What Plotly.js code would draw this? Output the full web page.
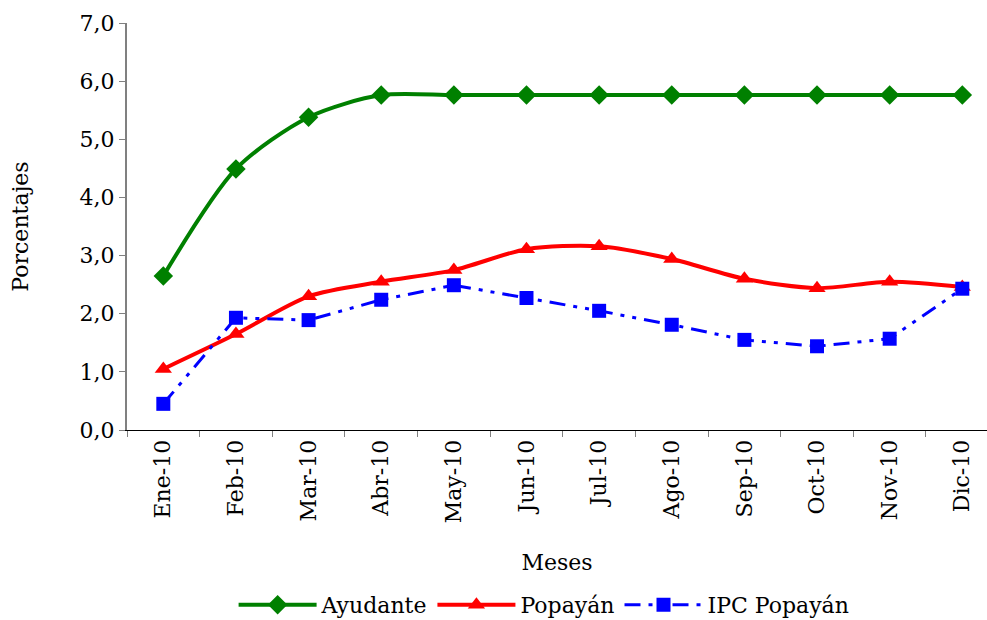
<!DOCTYPE html>
<html><head><meta charset="utf-8">
<script src="https://cdn.plot.ly/plotly-3.0.1.min.js"></script>
<style>body{margin:0;background:#fff}#chart{width:987px;height:620px}</style>
</head><body><div id="chart"></div>
<script>
const meses = ["Ene-10","Feb-10","Mar-10","Abr-10","May-10","Jun-10","Jul-10","Ago-10","Sep-10","Oct-10","Nov-10","Dic-10"];
const ayudante = [2.65,4.49,5.38,5.76,5.76,5.76,5.76,5.76,5.76,5.76,5.76,5.76];
const popayan = [1.05,1.65,2.30,2.55,2.75,3.11,3.16,2.94,2.60,2.44,2.55,2.46];
const ipcPopayan = [0.45,1.93,1.89,2.24,2.49,2.27,2.05,1.81,1.55,1.44,1.57,2.43];
const yTicks = [0,1,2,3,4,5,6,7];

const font = "DejaVu Serif, Liberation Serif, serif";
const traces = [
  {x: meses, y: ayudante, name: "Ayudante", type: "scatter", mode: "lines+markers",
   line: {color: "#008000", width: 4, shape: "spline", smoothing: 0.8},
   marker: {symbol: "diamond", size: 15, color: "#008000"}},
  {x: meses, y: popayan, name: "Popayán", type: "scatter", mode: "lines+markers",
   line: {color: "#ff0000", width: 4, shape: "spline", smoothing: 0.8},
   marker: {symbol: "triangle-up", size: 15, color: "#ff0000"}},
  {x: meses, y: ipcPopayan, name: "IPC Popayán", type: "scatter", mode: "lines+markers",
   line: {color: "#0000ff", width: 3, dash: "16px,8px,4px,8px,4px,8px"},
   marker: {symbol: "square", size: 14, color: "#0000ff"}}
];
const layout = {
  width: 987, height: 620,
  margin: {l: 127, r: 0, t: 23, b: 190},
  paper_bgcolor: "#fff", plot_bgcolor: "#fff",
  font: {family: font, size: 22, color: "#000"},
  separators: ",.",
  showlegend: true,
  legend: {orientation: "h", x: 0.485, xanchor: "center", xref: "paper",
           yref: "container", y: 0.058, yanchor: "top",
           itemwidth: 78, tracegroupgap: 0,
           font: {family: font, size: 22, color: "#000"}},
  xaxis: {type: "category", range: [-0.5, 11.34], tickson: "boundaries", automargin: false,
          ticks: "outside", ticklen: 6, tickcolor: "#808080", tickangle: -90,
          showline: true, linecolor: "#000", linewidth: 1, showgrid: false, zeroline: false,
          tickfont: {family: font, size: 22},
          title: {text: "Meses", font: {family: font, size: 22}, standoff: 32}},
  yaxis: {range: [0, 7], tickvals: yTicks, tickformat: ".1f", automargin: false,
          ticks: "outside", ticklen: 6, tickcolor: "#808080",
          showline: true, linecolor: "#808080", linewidth: 2, showgrid: false, zeroline: false,
          tickfont: {family: font, size: 22},
          title: {text: "Porcentajes", font: {family: font, size: 22}, standoff: 45}}
};
Plotly.newPlot("chart", traces, layout, {displayModeBar: false});
</script></body></html>
